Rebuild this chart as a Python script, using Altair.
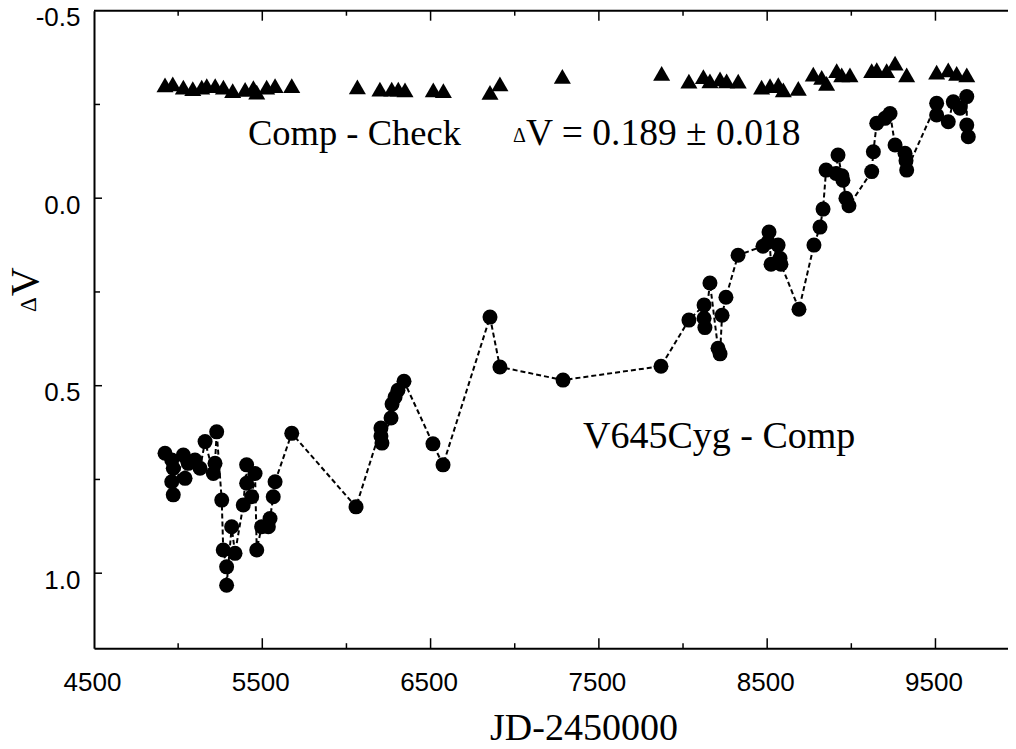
import altair as alt
import pandas as pd

# V645Cyg - Comp (circles, joined by dashed line)
var_jd = [4922, 4962, 4962, 4971, 4971, 5031, 5041, 5060, 5100, 5130, 5160, 5209, 5219, 5229,
          5259, 5268, 5288, 5288, 5318, 5338, 5387, 5407, 5407, 5437, 5457, 5467, 5496, 5536,
          5546, 5565, 5576, 5675,
          6057, 6205, 6205, 6211, 6265, 6271, 6289, 6306, 6342, 6514, 6574, 6853, 6912, 7287,
          7869, 8035, 8125, 8125, 8130, 8160, 8208, 8220, 8232, 8255, 8327, 8475, 8505, 8511,
          8523, 8565, 8576, 8582, 8689, 8778, 8814, 8832, 8850, 8909, 8921, 8944, 8950, 8968,
          8986, 9121, 9131, 9151, 9200, 9230, 9260, 9319, 9325, 9329, 9507, 9507, 9576, 9606,
          9646, 9686, 9686, 9695]
var_dv = [0.680, 0.698, 0.756, 0.720, 0.791, 0.685, 0.747, 0.707, 0.698, 0.720, 0.649, 0.734, 0.707, 0.623,
          0.805, 0.938, 0.983, 1.032, 0.876, 0.947, 0.818, 0.711, 0.760, 0.796, 0.734, 0.938, 0.876, 0.876,
          0.854, 0.796, 0.756, 0.627,
          0.823, 0.613, 0.634, 0.653, 0.586, 0.549, 0.530, 0.512, 0.488, 0.655, 0.711, 0.317, 0.450, 0.485,
          0.448, 0.325, 0.285, 0.320, 0.345, 0.226, 0.400, 0.415, 0.312, 0.264, 0.152, 0.128, 0.117, 0.090,
          0.176, 0.125, 0.160, 0.176, 0.296, 0.125, 0.077, 0.029, -0.075, -0.066, -0.115, -0.060, -0.048, 0.000,
          0.020, -0.071, -0.124, -0.200, -0.213, -0.226, -0.142, -0.120, -0.100, -0.075, -0.253, -0.222, -0.204, -0.257,
          -0.240, -0.271, -0.195, -0.164]

# Comp - Check (triangles)
check_jd = [4922, 4968, 5031, 5087, 5140, 5170, 5220, 5269, 5324, 5398, 5447, 5467, 5526, 5576, 5675,
            6065, 6199, 6269, 6308, 6348, 6516, 6576, 6853, 6912, 7283, 7873, 8035,
            8121, 8160, 8220, 8259, 8328, 8467, 8517, 8566, 8596, 8685, 8774, 8824, 8853, 8913,
            8943, 8992, 9121, 9151, 9210, 9260, 9329, 9507, 9576, 9626, 9686]
check_dv = [-0.302, -0.305, -0.296, -0.292, -0.296, -0.300, -0.300, -0.296, -0.287, -0.290, -0.295, -0.283, -0.296, -0.300, -0.300,
            -0.297, -0.291, -0.291, -0.291, -0.289, -0.289, -0.287, -0.282, -0.305, -0.325, -0.333, -0.312,
            -0.324, -0.313, -0.318, -0.313, -0.312, -0.296, -0.300, -0.303, -0.289, -0.293, -0.331, -0.322, -0.306, -0.340,
            -0.329, -0.329, -0.340, -0.343, -0.340, -0.360, -0.329, -0.336, -0.342, -0.333, -0.329]

x_labels = [4500, 5500, 6500, 7500, 8500, 9500]
y_labels = [-0.5, 0.0, 0.5, 1.0]
x_major = [5500, 6500, 7500, 8500, 9500]
x_minor = [5000, 6000, 7000, 8000, 9000]
y_major = [0.0, 0.5, 1.0]
y_minor = [-0.25, 0.25, 0.75]

W = 914
H = 637.5
SANS = "Liberation Sans"
SERIF = "Liberation Serif"

xs = alt.Scale(domain=[4500, 9931], nice=False, zero=False)
ys = alt.Scale(domain=[-0.5, 1.2], reverse=True, nice=False, zero=False)

xaxis = alt.Axis(values=x_labels, title=None, domain=True, domainColor="black", domainWidth=2,
                 ticks=False, tickSize=0, grid=False,
                 labelFont=SANS, labelFontSize=26, labelPadding=21, labelFlush=False,
                 labelOffset=-2, labelColor="black", labelOverlap=False, format="d")
yaxis = alt.Axis(values=y_labels, title=None, domain=True, domainColor="black", domainWidth=2,
                 ticks=False, tickSize=0, grid=False,
                 labelFont=SANS, labelFontSize=26, labelPadding=14, labelOffset=7,
                 labelColor="black", labelOverlap=False, labelFlush=False,
                 labelExpr="datum.value < 0 ? '-' + format(-datum.value, '.1f') : format(datum.value, '.1f')")

var_df = pd.DataFrame({"jd": var_jd, "dv": var_dv})
chk_df = pd.DataFrame({"jd": check_jd, "dv": check_dv})

X = alt.X("jd:Q", scale=xs, axis=xaxis)
Y = alt.Y("dv:Q", scale=ys, axis=yaxis)

line = alt.Chart(var_df).mark_line(color="black", strokeWidth=2, strokeDash=[5, 3]).encode(x=X, y=Y)
circles = alt.Chart(var_df).mark_point(shape="circle", filled=True, size=225, color="black",
                                       opacity=1, strokeWidth=0).encode(x=X, y=Y)
tris = alt.Chart(chk_df).mark_point(shape="triangle-up", filled=True, size=290, color="black",
                                    opacity=1, strokeWidth=0).encode(x=X, y=Y)


def tdf(vals):
    return pd.DataFrame({"t": vals})


TX = alt.X("t:Q", scale=xs, axis=xaxis)
TY = alt.Y("t:Q", scale=ys, axis=yaxis)
rule = dict(color="black", strokeWidth=1.5)

ticks = [
    alt.Chart(tdf(x_major)).mark_rule(**rule).encode(x=TX, y=alt.value(H), y2=alt.value(H - 10)),
    alt.Chart(tdf(x_minor)).mark_rule(**rule).encode(x=TX, y=alt.value(H), y2=alt.value(H - 5)),
    alt.Chart(tdf(x_major)).mark_rule(**rule).encode(x=TX, y=alt.value(0), y2=alt.value(10)),
    alt.Chart(tdf(x_minor)).mark_rule(**rule).encode(x=TX, y=alt.value(0), y2=alt.value(5)),
    alt.Chart(tdf(y_major)).mark_rule(**rule).encode(y=TY, x=alt.value(0), x2=alt.value(8)),
    alt.Chart(tdf(y_minor)).mark_rule(**rule).encode(y=TY, x=alt.value(0), x2=alt.value(6)),
]

one = alt.Data(values=[{}])

# top frame line
top_line = alt.Chart(one).mark_rule(color="black", strokeWidth=2).encode(
    x=alt.value(0), x2=alt.value(W), y=alt.value(0))


def label(txt, x, y, size, align="left", angle=0, font=SERIF):
    return alt.Chart(one).mark_text(text=txt, font=font, fontSize=size, align=align,
                                    baseline="alphabetic", angle=angle, color="black").encode(
        x=alt.value(x), y=alt.value(y))


texts = [
    label("Comp - Check", 154, 134, 36.5),
    label("\u0394", 419, 131, 20),
    label("V = 0.189 \u00b1 0.018", 432, 134, 37.5),
    label("V645Cyg - Comp", 489, 437, 38),
    label("JD-2450000", 490, 729, 38, align="center"),
    label("V", -56, 271, 40, align="center", angle=270),
    label("\u0394", -58, 294, 23, align="center", angle=270),
]

chart = alt.layer(line, circles, tris, top_line, *ticks, *texts).properties(
    width=W, height=H,
    background="white",
    padding={"left": 86, "top": 2.7, "right": 0, "bottom": 92.8},
    autosize=alt.AutoSizeParams(type="none"),
).configure_view(strokeWidth=0)

chart.save("out.html", embed_options={"renderer": "svg", "actions": False})
